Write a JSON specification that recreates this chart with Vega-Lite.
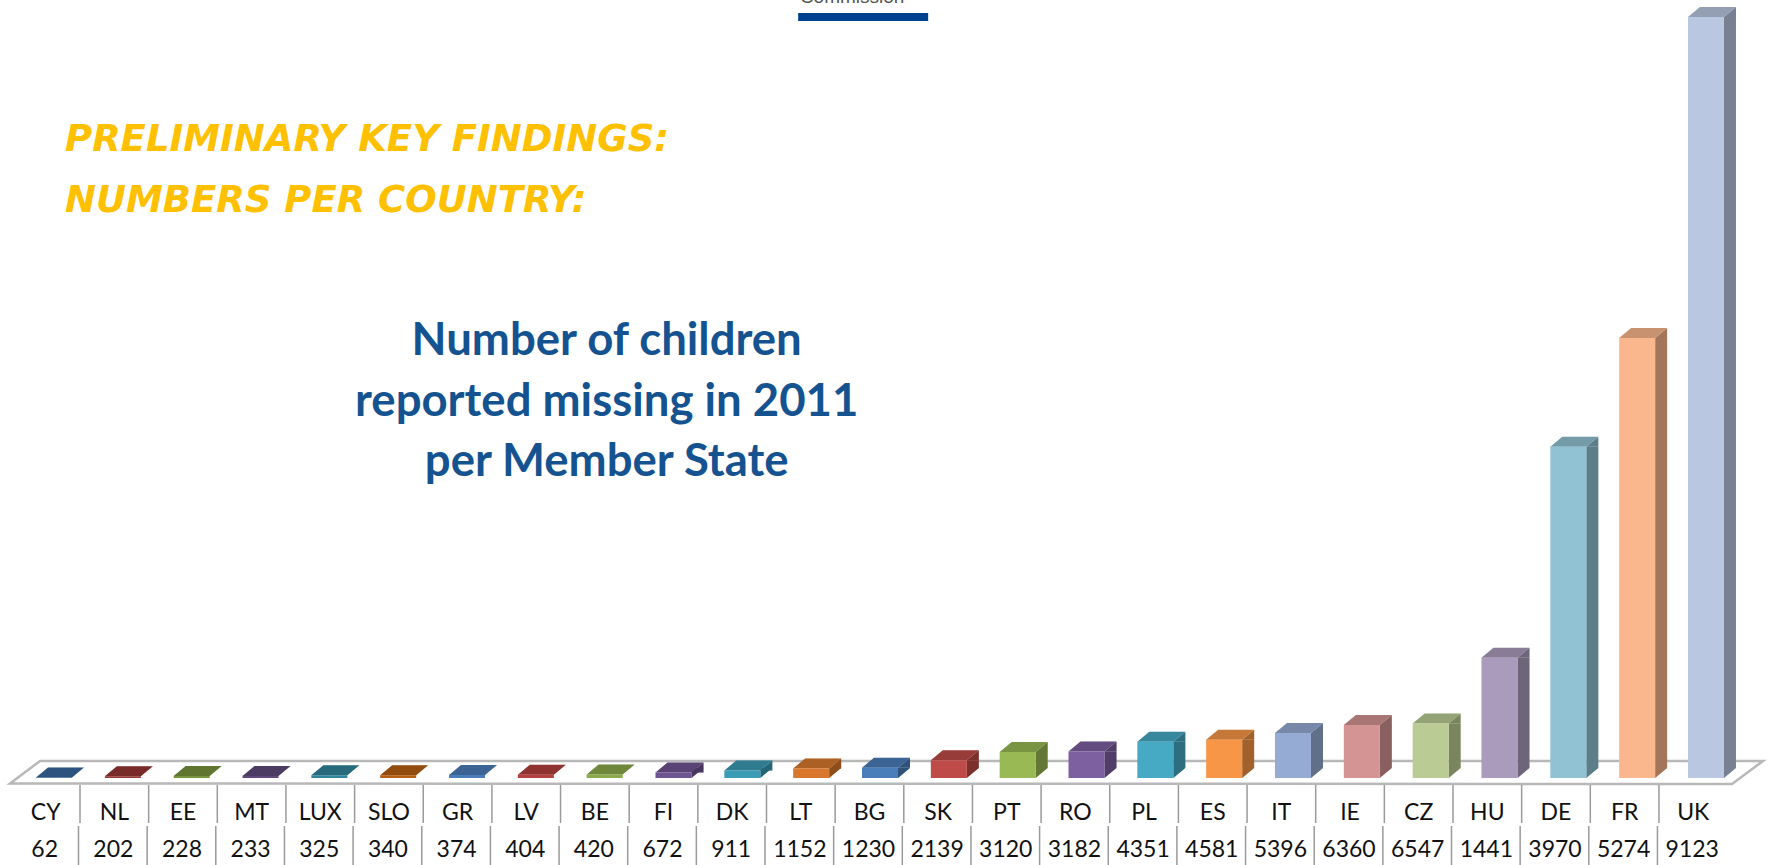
{"$schema":"https://vega.github.io/schema/vega-lite/v6.json","width":1768,"height":865,"autosize":{"type":"fit","contains":"padding"},"padding":0,"background":"#ffffff","config":{"view":{"stroke":null},"axis":{"disable":true},"legend":{"disable":true}},
"datasets":{"bars":[{"country":"CY","label":"62","missing":62},{"country":"NL","label":"202","missing":202},{"country":"EE","label":"228","missing":228},{"country":"MT","label":"233","missing":233},{"country":"LUX","label":"325","missing":325},{"country":"SLO","label":"340","missing":340},{"country":"GR","label":"374","missing":374},{"country":"LV","label":"404","missing":404},{"country":"BE","label":"420","missing":420},{"country":"FI","label":"672","missing":672},{"country":"DK","label":"911","missing":911},{"country":"LT","label":"1152","missing":1152},{"country":"BG","label":"1230","missing":1230},{"country":"SK","label":"2139","missing":2139},{"country":"PT","label":"3120","missing":3120},{"country":"RO","label":"3182","missing":3182},{"country":"PL","label":"4351","missing":4351},{"country":"ES","label":"4581","missing":4581},{"country":"IT","label":"5396","missing":5396},{"country":"IE","label":"6360","missing":6360},{"country":"CZ","label":"6547","missing":6547},{"country":"HU","label":"1441","missing":14410},{"country":"DE","label":"3970","missing":39700},{"country":"FR","label":"5274","missing":52740},{"country":"UK","label":"9123","missing":91230}]},
"data":{"name":"bars"},
"resolve":{"scale":{"x":"independent"}},
"layer":[
{"layer":[
{"mark":{"type":"point","shape":"M-44,5.5L-14,-17L1709,-17L1678,6Z","size":4,"filled":false,"opacity":1,"stroke":"#b8b8b8","strokeWidth":2.5,"fill":"#ffffff"},"data":{"values":[{"item":"floor"}]},"encoding":{"x":{"datum":"CY","type":"nominal","scale":{"type":"band","domain":["CY","NL","EE","MT","LUX","SLO","GR","LV","BE","FI","DK","LT","BG","SK","PT","RO","PL","ES","IT","IE","CZ","HU","DE","FR","UK"],"range":[19.6,1740.4],"paddingInner":0,"paddingOuter":0},"axis":null},"y":{"datum":0,"type":"quantitative","scale":{"domain":[0,91230],"range":[778,17],"nice":false},"axis":null}}},
{"transform":[{"filter":"datum.missing>=1199"}],"mark":{"type":"bar","width":12,"xOffset":24,"y2Offset":-10},"encoding":{"x":{"field":"country","type":"nominal"},"y":{"field":"missing","type":"quantitative","stack":null},"y2":{"datum":0},"color":{"field":"country","type":"nominal","legend":null,"scale":{"domain":["CY","NL","EE","MT","LUX","SLO","GR","LV","BE","FI","DK","LT","BG","SK","PT","RO","PL","ES","IT","IE","CZ","HU","DE","FR","UK"],"range":["#37699e","#953735","#77933c","#604a7b","#31859c","#b65f12","#4a7ebb","#b3403e","#8aa94a","#6f5492","#3b9cb5","#d9782d","#4a7ebb","#be4b48","#98b954","#7d60a0","#46aac5","#f79646","#95abd3","#d39493","#bacc93","#aa9bbd","#90c2d3","#fab68c","#b9c7e0"]}}}},
{"transform":[{"filter":"datum.missing>=1199"}],"mark":{"type":"bar","width":12,"xOffset":24,"y2Offset":-10,"color":"#000000","opacity":0.35},"encoding":{"x":{"field":"country","type":"nominal"},"y":{"field":"missing","type":"quantitative","stack":null},"y2":{"datum":0}}},
{"transform":[{"filter":"datum.missing>=600"}],"mark":{"type":"point","shape":"M18,0L30,-10L30,0Z","size":4,"filled":true,"opacity":1},"encoding":{"x":{"field":"country","type":"nominal"},"y":{"field":"missing","type":"quantitative"},"color":{"field":"country","type":"nominal","legend":null}}},
{"transform":[{"filter":"datum.missing>=600"}],"mark":{"type":"point","shape":"M18,0L30,-10L30,0Z","size":4,"filled":true,"opacity":0.35,"color":"#000000"},"encoding":{"x":{"field":"country","type":"nominal"},"y":{"field":"missing","type":"quantitative"}}},
{"transform":[{"filter":"datum.missing>=600"}],"mark":{"type":"point","shape":"M18,0L30,-10L18,-10Z","size":4,"filled":true,"opacity":1},"encoding":{"x":{"field":"country","type":"nominal"},"y":{"datum":0},"color":{"field":"country","type":"nominal","legend":null}}},
{"transform":[{"filter":"datum.missing>=600"}],"mark":{"type":"point","shape":"M18,0L30,-10L18,-10Z","size":4,"filled":true,"opacity":0.35,"color":"#000000"},"encoding":{"x":{"field":"country","type":"nominal"},"y":{"datum":0}}},
{"mark":{"type":"point","shape":"M-18,0L-6,-10L30,-10L18,0Z","size":4,"filled":true,"opacity":1},"encoding":{"x":{"field":"country","type":"nominal"},"y":{"field":"missing","type":"quantitative"},"color":{"field":"country","type":"nominal","legend":null}}},
{"mark":{"type":"point","shape":"M-18,0L-6,-10L30,-10L18,0Z","size":4,"filled":true,"opacity":0.2,"color":"#000000"},"encoding":{"x":{"field":"country","type":"nominal"},"y":{"field":"missing","type":"quantitative"}}},
{"mark":{"type":"bar","width":36},"encoding":{"x":{"field":"country","type":"nominal"},"y":{"field":"missing","type":"quantitative","stack":null},"y2":{"datum":0},"color":{"field":"country","type":"nominal","legend":null}}},
{"mark":{"type":"point","shape":"M-13,-4H117V4H-13Z","size":4,"filled":true,"opacity":1,"color":"#00418f"},"data":{"values":[{"item":"logo"}]},"encoding":{"x":{"datum":"LT","type":"nominal"},"y":{"datum":91230}}},
{"mark":{"type":"text","font":"Liberation Sans","fontSize":19,"fill":"#555555","align":"center","baseline":"alphabetic","dx":41,"clip":true},"data":{"values":[{"t":"Commission"}]},"encoding":{"x":{"datum":"LT","type":"nominal"},"y":{"datum":92926},"text":{"field":"t"}}},
{"mark":{"type":"text","font":"DejaVu Sans","fontWeight":"bold","fontStyle":"italic","fontSize":37,"fill":"#ffc000","align":"left","baseline":"alphabetic","dx":11},"data":{"values":[{"t":"PRELIMINARY KEY FINDINGS:","v":75200},{"t":"NUMBERS PER COUNTRY:","v":67860}]},"encoding":{"x":{"datum":"CY","type":"nominal"},"y":{"field":"v","type":"quantitative"},"text":{"field":"t"}}},
{"mark":{"type":"text","font":"Lato","fontWeight":"bold","fontSize":45.5,"fill":"#14538f","align":"center","baseline":"alphabetic","dx":2},"data":{"values":[{"t":"Number of children","v":50710},{"t":"reported missing in 2011","v":43400},{"t":"per Member State","v":36200}]},"encoding":{"x":{"datum":"BE","type":"nominal"},"y":{"field":"v","type":"quantitative"},"text":{"field":"t"}}}
]},
{"layer":[
{"transform":[{"filter":"datum.country!=='UK'"}],"mark":{"type":"rule","color":"#9a9a9a","strokeWidth":1.5},"encoding":{"x":{"field":"country","type":"nominal","bandPosition":1,"axis":null,"sort":null,"scale":{"type":"band","domain":["CY","NL","EE","MT","LUX","SLO","GR","LV","BE","FI","DK","LT","BG","SK","PT","RO","PL","ES","IT","IE","CZ","HU","DE","FR","UK"],"range":[11.35,1727.6],"paddingInner":0,"paddingOuter":0}},"y":{"datum":-839},"y2":{"datum":-5395}}},
{"transform":[{"filter":"datum.country!=='UK'"}],"mark":{"type":"rule","color":"#9a9a9a","strokeWidth":1.5,"xOffset":-1.5},"encoding":{"x":{"field":"country","type":"nominal","bandPosition":1},"y":{"datum":-5754},"y2":{"datum":-10430}}},
{"mark":{"type":"text","font":"Lato","fontSize":23,"fill":"#111111","align":"center","baseline":"middle"},"encoding":{"x":{"field":"country","type":"nominal"},"y":{"datum":-4196},"text":{"field":"country"}}},
{"mark":{"type":"text","font":"Lato","fontSize":23,"fill":"#111111","align":"center","baseline":"middle","dx":-1},"encoding":{"x":{"field":"country","type":"nominal"},"y":{"datum":-8632},"text":{"field":"label"}}}
]}
]}
